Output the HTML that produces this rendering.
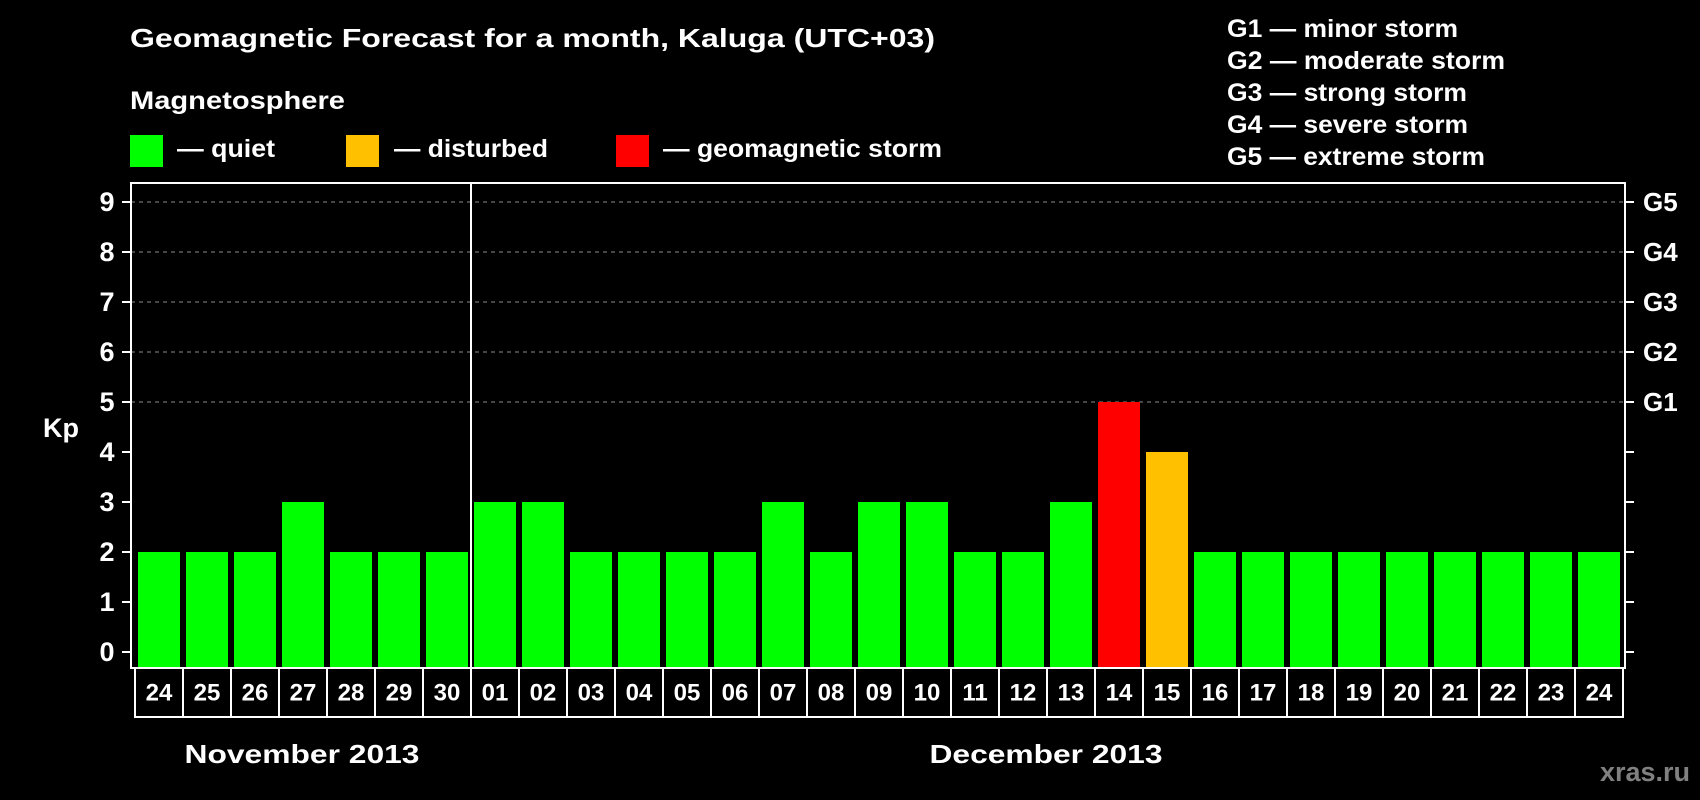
<!DOCTYPE html>
<html><head><meta charset="utf-8"><style>
html,body{margin:0;padding:0;background:#000;}
svg{display:block;}
text{font-family:"Liberation Sans",Arial,sans-serif;font-weight:bold;fill:#fff;}
</style></head><body>
<svg id="chart" width="1700" height="800" viewBox="0 0 1700 800" xmlns="http://www.w3.org/2000/svg">
<rect width="1700" height="800" fill="#000"/>
<text x="130" y="38" dominant-baseline="central" font-size="26" textLength="805" lengthAdjust="spacingAndGlyphs">Geomagnetic Forecast for a month, Kaluga (UTC+03)</text>
<text x="130" y="101" dominant-baseline="central" font-size="25" textLength="215" lengthAdjust="spacingAndGlyphs">Magnetosphere</text>
<g>
<rect x="130" y="135" width="33" height="32" fill="#00ff00"/>
<text x="177" y="149" dominant-baseline="central" font-size="25" textLength="98" lengthAdjust="spacingAndGlyphs">— quiet</text></g>
<g>
<rect x="346" y="135" width="33" height="32" fill="#ffc000"/>
<text x="394" y="149" dominant-baseline="central" font-size="25" textLength="154" lengthAdjust="spacingAndGlyphs">— disturbed</text></g>
<g>
<rect x="616" y="135" width="33" height="32" fill="#ff0000"/>
<text x="663" y="149" dominant-baseline="central" font-size="25" textLength="279" lengthAdjust="spacingAndGlyphs">— geomagnetic storm</text></g>
<g>
<text x="1227" y="29" dominant-baseline="central" font-size="25" textLength="231" lengthAdjust="spacingAndGlyphs">G1 — minor storm</text>
<text x="1227" y="61" dominant-baseline="central" font-size="25" textLength="278" lengthAdjust="spacingAndGlyphs">G2 — moderate storm</text>
<text x="1227" y="93" dominant-baseline="central" font-size="25" textLength="240" lengthAdjust="spacingAndGlyphs">G3 — strong storm</text>
<text x="1227" y="125" dominant-baseline="central" font-size="25" textLength="241" lengthAdjust="spacingAndGlyphs">G4 — severe storm</text>
<text x="1227" y="157" dominant-baseline="central" font-size="25" textLength="258" lengthAdjust="spacingAndGlyphs">G5 — extreme storm</text>
</g>
<text x="43" y="428" dominant-baseline="central" font-size="27">Kp</text>
<text x="302" y="754" text-anchor="middle" dominant-baseline="central" font-size="26" textLength="235" lengthAdjust="spacingAndGlyphs">November 2013</text>
<text x="1046" y="754" text-anchor="middle" dominant-baseline="central" font-size="26" textLength="233" lengthAdjust="spacingAndGlyphs">December 2013</text>
<text x="1690" y="772" text-anchor="end" dominant-baseline="central" font-size="27" style="fill:#808080">xras.ru</text>
<g id="grid"></g><g id="bars"></g><g id="axes"></g>
</svg>
<script>
const days = ["24","25","26","27","28","29","30","01","02","03","04","05","06","07","08","09","10","11","12","13","14","15","16","17","18","19","20","21","22","23","24"];
const kpValues = [2,2,2,3,2,2,2,3,3,2,2,2,2,3,2,3,3,2,2,3,5,4,2,2,2,2,2,2,2,2,2];
const yTicks = [0,1,2,3,4,5,6,7,8,9];
const gLabels = ["G1","G2","G3","G4","G5"];
const gLevels = [5,6,7,8,9];
const monthBreak = 7;

const NS="http://www.w3.org/2000/svg";
const plotL=131, plotR=1625, plotT=183, plotB=668;
const cellL=135, cellW=48, cellB=717;
function y(v){return 652 - v*50;}
function x(i){return cellL + i*cellW;}
function mk(tag,attrs,parent){const e=document.createElementNS(NS,tag);for(const k in attrs)e.setAttribute(k,attrs[k]);parent.appendChild(e);return e;}
const grid=document.getElementById('grid'), bars=document.getElementById('bars'), axes=document.getElementById('axes');

gLevels.forEach((lv,i)=>{
  const l=mk('line',{x1:plotL,x2:plotR,y1:y(lv),y2:y(lv),stroke:'#8c8c8c','stroke-width':1,'stroke-dasharray':'4,4'},grid);
  
  
  const t=mk('text',{x:1643,y:y(lv),'dominant-baseline':'central','font-size':26},axes);
  t.textContent=gLabels[i];
  
  
});

kpValues.forEach((v,i)=>{
  const c = v>=5?'#ff0000':(v>=4?'#ffc000':'#00ff00');
  const r=mk('rect',{x:x(i)+3,y:y(v),width:42,height:plotB-y(v),fill:c},bars);
  
  
  const t=mk('text',{x:x(i)+cellW/2,y:693,'text-anchor':'middle','dominant-baseline':'central','font-size':24},axes);
  t.textContent=days[i];
  
  
  if(i>0){
    const d=mk('line',{x1:x(i),x2:x(i),y1:plotB,y2:cellB,stroke:'#fff','stroke-width':2},axes);
    
    
  }
});

yTicks.forEach(v=>{
  const l=mk('line',{x1:122,x2:plotL,y1:y(v),y2:y(v),stroke:'#fff','stroke-width':2},axes);
  
  
  const r=mk('line',{x1:plotR,x2:1634,y1:y(v),y2:y(v),stroke:'#fff','stroke-width':2},axes);
  
  
  const t=mk('text',{x:107,y:y(v),'text-anchor':'middle','dominant-baseline':'central','font-size':27},axes);
  t.textContent=v;
  
  
});

const frame=mk('rect',{x:plotL,y:plotT,width:plotR-plotL,height:plotB-plotT,fill:'none',stroke:'#fff','stroke-width':2},axes);


const cells=mk('rect',{x:cellL,y:plotB,width:cellW*days.length,height:cellB-plotB,fill:'none',stroke:'#fff','stroke-width':2},axes);


const mb=mk('line',{x1:x(monthBreak),x2:x(monthBreak),y1:plotT,y2:plotB,stroke:'#fff','stroke-width':2},axes);


</script>
</body></html>
